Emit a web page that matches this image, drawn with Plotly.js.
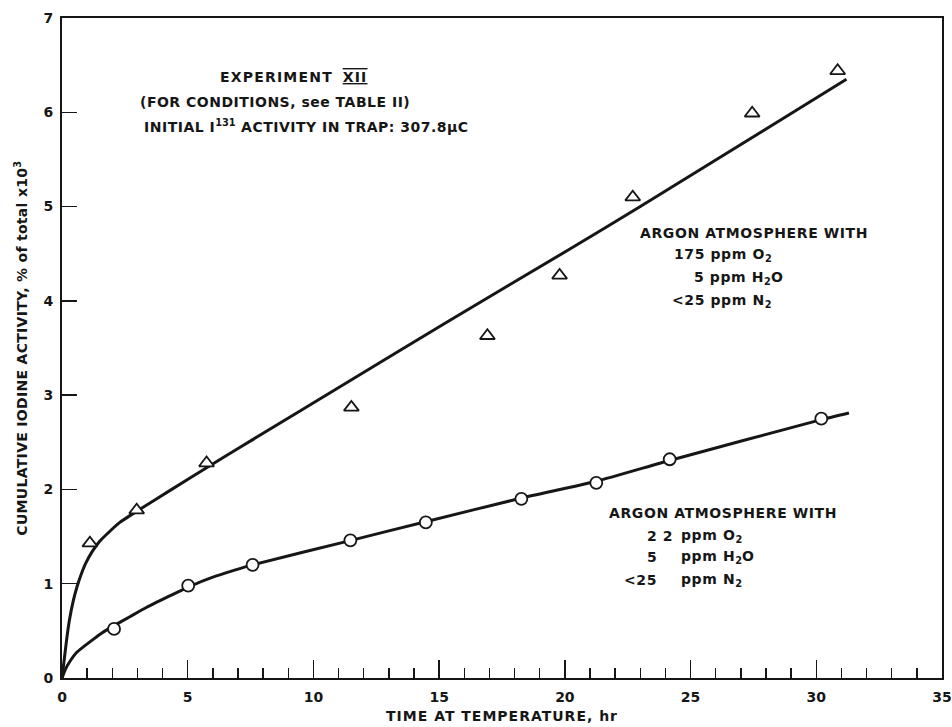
<!DOCTYPE html>
<html>
<head>
<meta charset="utf-8">
<script src="https://cdn.plot.ly/plotly-3.0.1.min.js"></script>
<style>html,body{margin:0;padding:0;background:#fff;}</style>
</head>
<body>
<div id="chart" style="width:952px;height:727px;"></div>
<script>
// Measured points: 175 ppm O2 atmosphere (triangles)
const triX = [1.11, 2.97, 5.75, 11.51, 16.92, 19.79, 22.7, 27.45, 30.85];
const triY = [1.43, 1.78, 2.28, 2.87, 3.63, 4.27, 5.10, 5.99, 6.44];
// Measured points: 2.2 ppm O2 atmosphere (circles)
const cirX = [2.07, 5.02, 7.58, 11.47, 14.47, 18.27, 21.25, 24.17, 30.20];
const cirY = [0.52, 0.98, 1.20, 1.46, 1.65, 1.90, 2.07, 2.32, 2.75];
// Hand-drawn curves
const upperX = [0, 0.1, 0.2, 0.3, 0.45, 0.6, 0.75, 0.95, 1.2, 1.5, 1.8, 2.3, 3.1, 4.3, 5.75, 7.1, 11.5, 15.4, 20.2, 23.0, 31.2];
const upperY = [0, 0.22, 0.44, 0.62, 0.82, 0.97, 1.09, 1.22, 1.34, 1.45, 1.53, 1.65, 1.79, 1.99, 2.23, 2.45, 3.16, 3.79, 4.55, 5.00, 6.35];
const lowerX = [0, 0.15, 0.3, 0.58, 0.9, 1.24, 1.6, 2.07, 2.7, 3.37, 4.2, 5.02, 6.0, 7.07, 7.58, 11.5, 14.5, 18.3, 21.3, 24.2, 30.2, 31.3];
const lowerY = [0, 0.10, 0.17, 0.27, 0.34, 0.41, 0.48, 0.555, 0.65, 0.75, 0.86, 0.965, 1.07, 1.16, 1.20, 1.46, 1.66, 1.91, 2.09, 2.31, 2.74, 2.81];
// Axis ticks
const xTicks = [0, 5, 10, 15, 20, 25, 30, 35];
const yTicks = [0, 1, 2, 3, 4, 5, 6, 7];

const FONT = '"DejaVu Sans", sans-serif';
const INK = '#161616';
function sp(t, ls) { return '<span style="letter-spacing:' + (ls === undefined ? 0.6 : ls) + 'px">' + t + '</span>'; }
const TFONT = {family: FONT, size: 14, color: INK, weight: 'bold'};

const traces = [
  {x: upperX, y: upperY, mode: 'lines', line: {color: INK, width: 3, shape: 'spline', smoothing: 0.5}, hoverinfo: 'skip'},
  {x: lowerX, y: lowerY, mode: 'lines', line: {color: INK, width: 3, shape: 'spline', smoothing: 0.5}, hoverinfo: 'skip'},
  {x: triX, y: triY, mode: 'markers', marker: {symbol: 'triangle-up', size: 13, color: '#fff', line: {color: INK, width: 1.8}}},
  {x: cirX, y: cirY, mode: 'markers', marker: {symbol: 'circle', size: 12, color: '#fff', line: {color: INK, width: 1.8}}}
];

function ann(x, y, text, extra) {
  return Object.assign({x: x, y: y, xref: 'x', yref: 'y', text: text, showarrow: false,
    xanchor: 'left', yanchor: 'middle', font: TFONT}, extra || {});
}

const annotations = [
  ann(6.2, 6.37, sp('EXPERIMENT', 1.2) + '  ' + '<span style="text-decoration:underline overline;letter-spacing:1.2px">XII</span>'),
  ann(3.02, 6.11, sp('(FOR CONDITIONS, see TABLE II)', 0.5)),
  ann(3.18, 5.85, sp('INITIAL I', 0.5) + '<sup>131</sup>' + sp(' ACTIVITY IN TRAP: 307.8μC', 0.5)),
  ann(22.89, 4.72, sp('ARGON ATMOSPHERE WITH')),
  ann(24.28, 4.49, sp('175 ppm O') + '<sub>2</sub>'),
  ann(25.04, 4.24, sp('5 ppm H') + '<sub>2</sub>' + 'O'),
  ann(24.17, 4.00, sp('<25 ppm N') + '<sub>2</sub>'),
  ann(21.66, 1.75, sp('ARGON ATMOSPHERE WITH')),
  ann(23.17, 1.51, sp('2 2')),
  ann(24.55, 1.51, sp('ppm O') + '<sub>2</sub>'),
  ann(23.17, 1.28, sp('5')),
  ann(24.55, 1.28, sp('ppm H') + '<sub>2</sub>' + 'O'),
  ann(22.26, 1.04, sp('<25')),
  ann(24.55, 1.04, sp('ppm N') + '<sub>2</sub>'),
  {x: 0.5, y: -0.058, xref: 'paper', yref: 'paper', xanchor: 'center', yanchor: 'middle', showarrow: false,
   text: sp('TIME AT TEMPERATURE, hr', 1.0), font: TFONT},
  {x: -0.047, y: 0.5, xref: 'paper', yref: 'paper', xanchor: 'center', yanchor: 'middle', showarrow: false, textangle: -90,
   text: sp('CUMULATIVE IODINE ACTIVITY, % of total x10', 0.3) + '<sup>3</sup>', font: TFONT}
];

const axisCommon = {
  showline: true, linecolor: INK, linewidth: 2, mirror: true, showgrid: false, zeroline: false,
  ticks: 'inside', tickcolor: INK, tickwidth: 1.5, tickfont: {family: FONT, size: 14, color: INK, weight: 'bold'}
};

const layout = {
  width: 952, height: 727,
  margin: {l: 62, r: 10, t: 18, b: 49},
  paper_bgcolor: '#fff', plot_bgcolor: '#fff',
  showlegend: false,
  xaxis: Object.assign({}, axisCommon, {range: [0, 35], tickvals: xTicks, ticktext: xTicks.map(String), ticklen: 18,
    ticklabelstandoff: 5,
    minor: {dtick: 1, tick0: 0, ticks: 'inside', ticklen: 10, tickwidth: 1.3, tickcolor: INK, showgrid: false}}),
  yaxis: Object.assign({}, axisCommon, {range: [0, 7], tickvals: yTicks, ticktext: yTicks.map(String), ticklen: 15,
    ticklabelstandoff: 4}),
  annotations: annotations
};

Plotly.newPlot('chart', traces, layout, {displayModeBar: false, staticPlot: true});
</script>
</body>
</html>
